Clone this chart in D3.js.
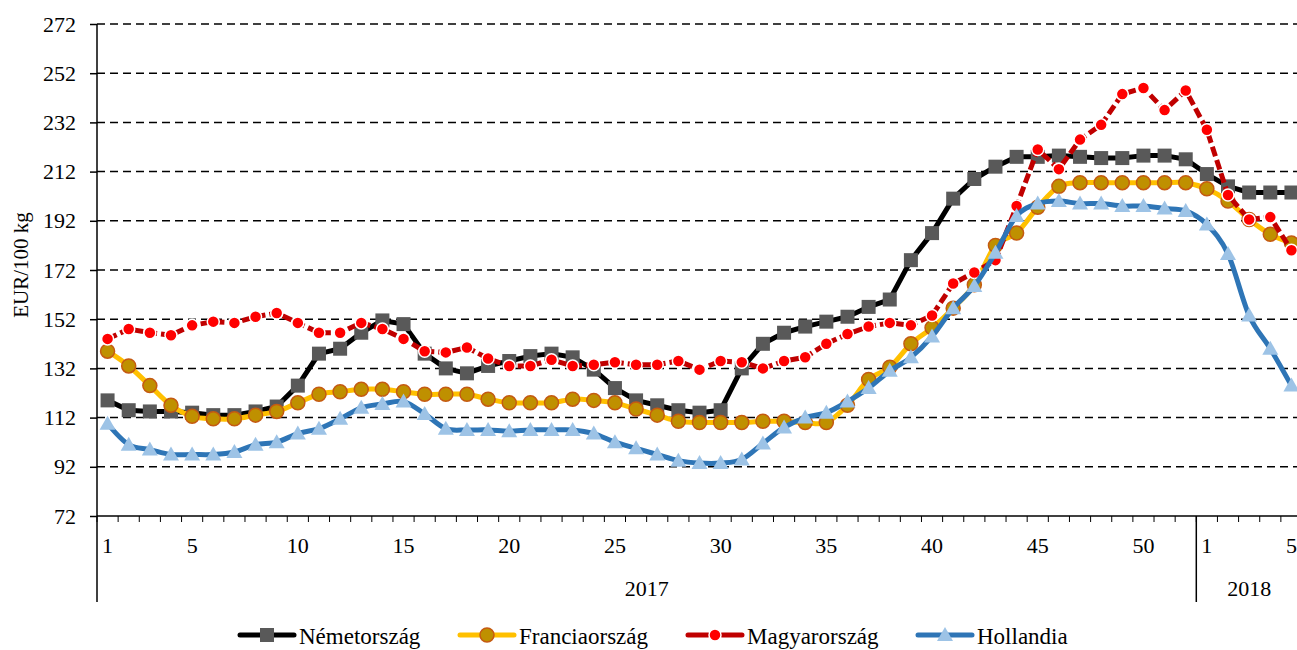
<!DOCTYPE html>
<html>
<head>
<meta charset="utf-8">
<script src="https://cdn.jsdelivr.net/npm/d3@7"></script>
<style>
  body { margin: 0; background: #fff; }
  svg, svg text { font-family: "Liberation Serif", "Times New Roman", serif; }
</style>
</head>
<body>
<svg id="chart" width="1297" height="650"></svg>
<script>
const width = 1297;
const height = 650;
const marginLeft = 97;
const plotRight = 1302;
const plotTop = 24;
const plotBottom = 516;

// kategóriák: 2017 hetei + 2018 első öt hete
const weeks2017 = d3.range(1, 53);
const weeks2018 = [1, 2, 3, 4, 5];
const years = ["2017", "2018"];
const shownWeeks = [1, 5, 10, 15, 20, 25, 30, 35, 40, 45, 50];
const yTicks = [72, 92, 112, 132, 152, 172, 192, 212, 232, 252, 272];

const nemet = [119, 115, 114.5, 114.5, 114, 113, 113, 114.5, 116.5, 125, 138, 140, 146.5, 151.5, 150, 138,
  132, 130, 133, 135, 137, 138, 136.5, 131.5, 124, 119, 117, 115, 114, 115, 132, 142, 146.5, 149, 151, 153,
  157, 160, 176, 187, 201, 209, 214, 218, 218, 218.5, 218, 217.5, 217.5, 218.5, 218.5, 217,
  211, 206, 203.5, 203.5, 203.5];
const francia = [139, 133, 125, 117, 112.5, 111.5, 111.5, 113, 114.5, 118, 121.5, 122.5, 123.5, 123.5, 122.5, 121.5,
  121.5, 121.5, 119.5, 118, 118, 118, 119.5, 119, 118, 115.5, 113, 110.5, 110, 110, 110, 110.5, 110.5, 110, 110, 117,
  127.5, 132.5, 142, 148.5, 156.5, 166, 182, 187, 197.5, 206, 207.5, 207.5, 207.5, 207.5, 207.5, 207.5,
  205, 200, 192.5, 186.5, 183];
const magyar = [144, 148, 146.5, 145.5, 149.5, 151, 150.5, 153, 154.5, 150.5, 146.5, 146.5, 150.5, 148, 144, 139,
  138.5, 140.5, 136, 133, 133, 135.5, 133, 133.5, 134.5, 133.5, 133.5, 135, 131.5, 135, 134.5, 132, 135, 136.5, 142, 146,
  149, 150.5, 149.5, 153.5, 166.5, 171, 176, 198, 221, 213, 225, 231, 243.5, 246, 237, 245,
  229, 202.5, 192.5, 193.5, 180];
const holland = [109.5, 101, 99, 97, 97, 97, 98, 101, 102, 105.5, 107.5, 111.5, 116, 117.5, 118.5, 113.5,
  107.5, 107, 107, 106.5, 107, 107, 107, 105.5, 102, 99.5, 97, 94.5, 93.5, 93.5, 95, 101.5, 108, 112, 114, 118.5,
  124, 131, 136.5, 145, 156.5, 165.5, 179, 194, 199, 200, 199, 199, 198, 198, 197, 196,
  190.5, 178.5, 153.5, 140, 125];

const categories = weeks2017.map(w => ({ year: "2017", week: w }))
  .concat(weeks2018.map(w => ({ year: "2018", week: w })));

const series = [
  { name: "Németország", values: nemet, stroke: "#000000", width: 5, dash: null, marker: "square", curve: d3.curveLinear },
  { name: "Franciaország", values: francia, stroke: "#FFC000", width: 5, dash: null, marker: "circleGold", curve: d3.curveCatmullRom.alpha(0) },
  { name: "Magyarország", values: magyar, stroke: "#C00000", width: 5, dash: "10,4", marker: "circleRed", curve: d3.curveLinear },
  { name: "Hollandia", values: holland, stroke: "#2E75B6", width: 5, dash: null, marker: "triangle", curve: d3.curveCatmullRom.alpha(0) },
];

const svg = d3.select("#chart");

const x = d3.scaleBand()
  .domain(d3.range(categories.length))
  .range([marginLeft, plotRight])
  .padding(0);

const y = d3.scaleLinear()
  .domain([72, 272])
  .range([plotBottom, plotTop]);

const cx = i => x(i) + x.bandwidth() / 2;

// rács
svg.append("g")
  .selectAll("line")
  .data(yTicks.slice(1))
  .join("line")
  .attr("x1", marginLeft)
  .attr("x2", width)
  .attr("y1", d => y(d))
  .attr("y2", d => y(d))
  .attr("stroke", "#000")
  .attr("stroke-width", 1.5)
  .attr("stroke-dasharray", "8,5");

// y tengely
const yAxis = svg.append("g")
  .attr("transform", `translate(${marginLeft},0)`)
  .call(d3.axisLeft(y).tickValues(yTicks).tickSize(7).tickPadding(14));
yAxis.attr("font-family", "Liberation Serif").attr("font-size", 22);
yAxis.select(".domain").remove();
yAxis.selectAll(".tick line").attr("stroke", "#000").attr("stroke-width", 1.5);
yAxis.selectAll(".tick text").attr("fill", "#000");

svg.append("text")
  .attr("transform", `translate(28,265) rotate(-90)`)
  .attr("text-anchor", "middle")
  .attr("font-size", 21)
  .text("EUR/100 kg");

// x tengely
svg.append("line")
  .attr("x1", marginLeft).attr("x2", width)
  .attr("y1", plotBottom).attr("y2", plotBottom)
  .attr("stroke", "#000").attr("stroke-width", 1.5);

svg.append("g")
  .selectAll("line")
  .data(d3.range(categories.length + 1))
  .join("line")
  .attr("x1", i => x(i) ?? plotRight)
  .attr("x2", i => x(i) ?? plotRight)
  .attr("y1", plotBottom)
  .attr("y2", plotBottom + 6)
  .attr("stroke", "#000")
  .attr("stroke-width", 1);

svg.append("g")
  .selectAll("text")
  .data(categories.map((c, i) => ({ ...c, i }))
    .filter(d => d.year === "2017" ? shownWeeks.includes(d.week) : (d.week === 1 || d.week === 5)))
  .join("text")
  .attr("x", d => cx(d.i))
  .attr("y", 553)
  .attr("text-anchor", "middle")
  .attr("font-size", 22)
  .text(d => d.week);

const split = x(weeks2017.length);
svg.append("line")
  .attr("x1", marginLeft).attr("x2", marginLeft)
  .attr("y1", plotTop).attr("y2", 602)
  .attr("stroke", "#000").attr("stroke-width", 1.5);
svg.append("line")
  .attr("x1", split).attr("x2", split)
  .attr("y1", plotBottom).attr("y2", 602)
  .attr("stroke", "#000").attr("stroke-width", 1.5);

svg.append("g")
  .selectAll("text")
  .data(years)
  .join("text")
  .attr("x", d => d === "2017" ? (marginLeft + split) / 2 : (split + plotRight) / 2)
  .attr("y", 596)
  .attr("text-anchor", "middle")
  .attr("font-size", 22)
  .text(d => d);

// jelölők
function drawMarker(g, type, px, py) {
  if (type === "square") {
    g.append("rect")
      .attr("x", px - 7).attr("y", py - 7)
      .attr("width", 14).attr("height", 14)
      .attr("fill", "#595959");
  } else if (type === "circleGold") {
    g.append("circle")
      .attr("cx", px).attr("cy", py).attr("r", 7)
      .attr("fill", "#BF9000")
      .attr("stroke", "#C55A11")
      .attr("stroke-width", 1.5);
  } else if (type === "circleRed") {
    g.append("circle")
      .attr("cx", px).attr("cy", py).attr("r", 6)
      .attr("fill", "#FF0000")
      .attr("stroke", "#fff")
      .attr("stroke-width", 1.5);
  } else if (type === "triangle") {
    g.append("path")
      .attr("d", `M${px},${py - 8}L${px + 8},${py + 6}L${px - 8},${py + 6}Z`)
      .attr("fill", "#9DC3E6");
  }
}

const plot = svg.append("g");
series.forEach(s => {
  const line = d3.line()
    .x((d, i) => cx(i))
    .y(d => y(d))
    .curve(s.curve);

  const g = plot.append("g");
  g.append("path")
    .attr("d", line(s.values))
    .attr("fill", "none")
    .attr("stroke", s.stroke)
    .attr("stroke-width", s.width)
    .attr("stroke-linejoin", "round")
    .attr("stroke-dasharray", s.dash);

  s.values.forEach((v, i) => drawMarker(g, s.marker, cx(i), y(v)));
});

// jelmagyarázat
const legendX = [240, 460, 688, 918];
const legend = svg.append("g");
series.forEach((s, k) => {
  const lx = legendX[k];
  const ly = 635;
  const g = legend.append("g");
  g.append("line")
    .attr("x1", lx).attr("x2", lx + 54)
    .attr("y1", ly).attr("y2", ly)
    .attr("stroke", s.stroke)
    .attr("stroke-width", s.width)
    .attr("stroke-linecap", "round")
    .attr("stroke-dasharray", s.dash ? "20,14,20" : null);
  drawMarker(g, s.marker, lx + 27, ly);
  g.append("text")
    .attr("x", lx + 59)
    .attr("y", ly + 9)
    .attr("font-size", 23)
    .text(s.name);
});
</script>
</body>
</html>
